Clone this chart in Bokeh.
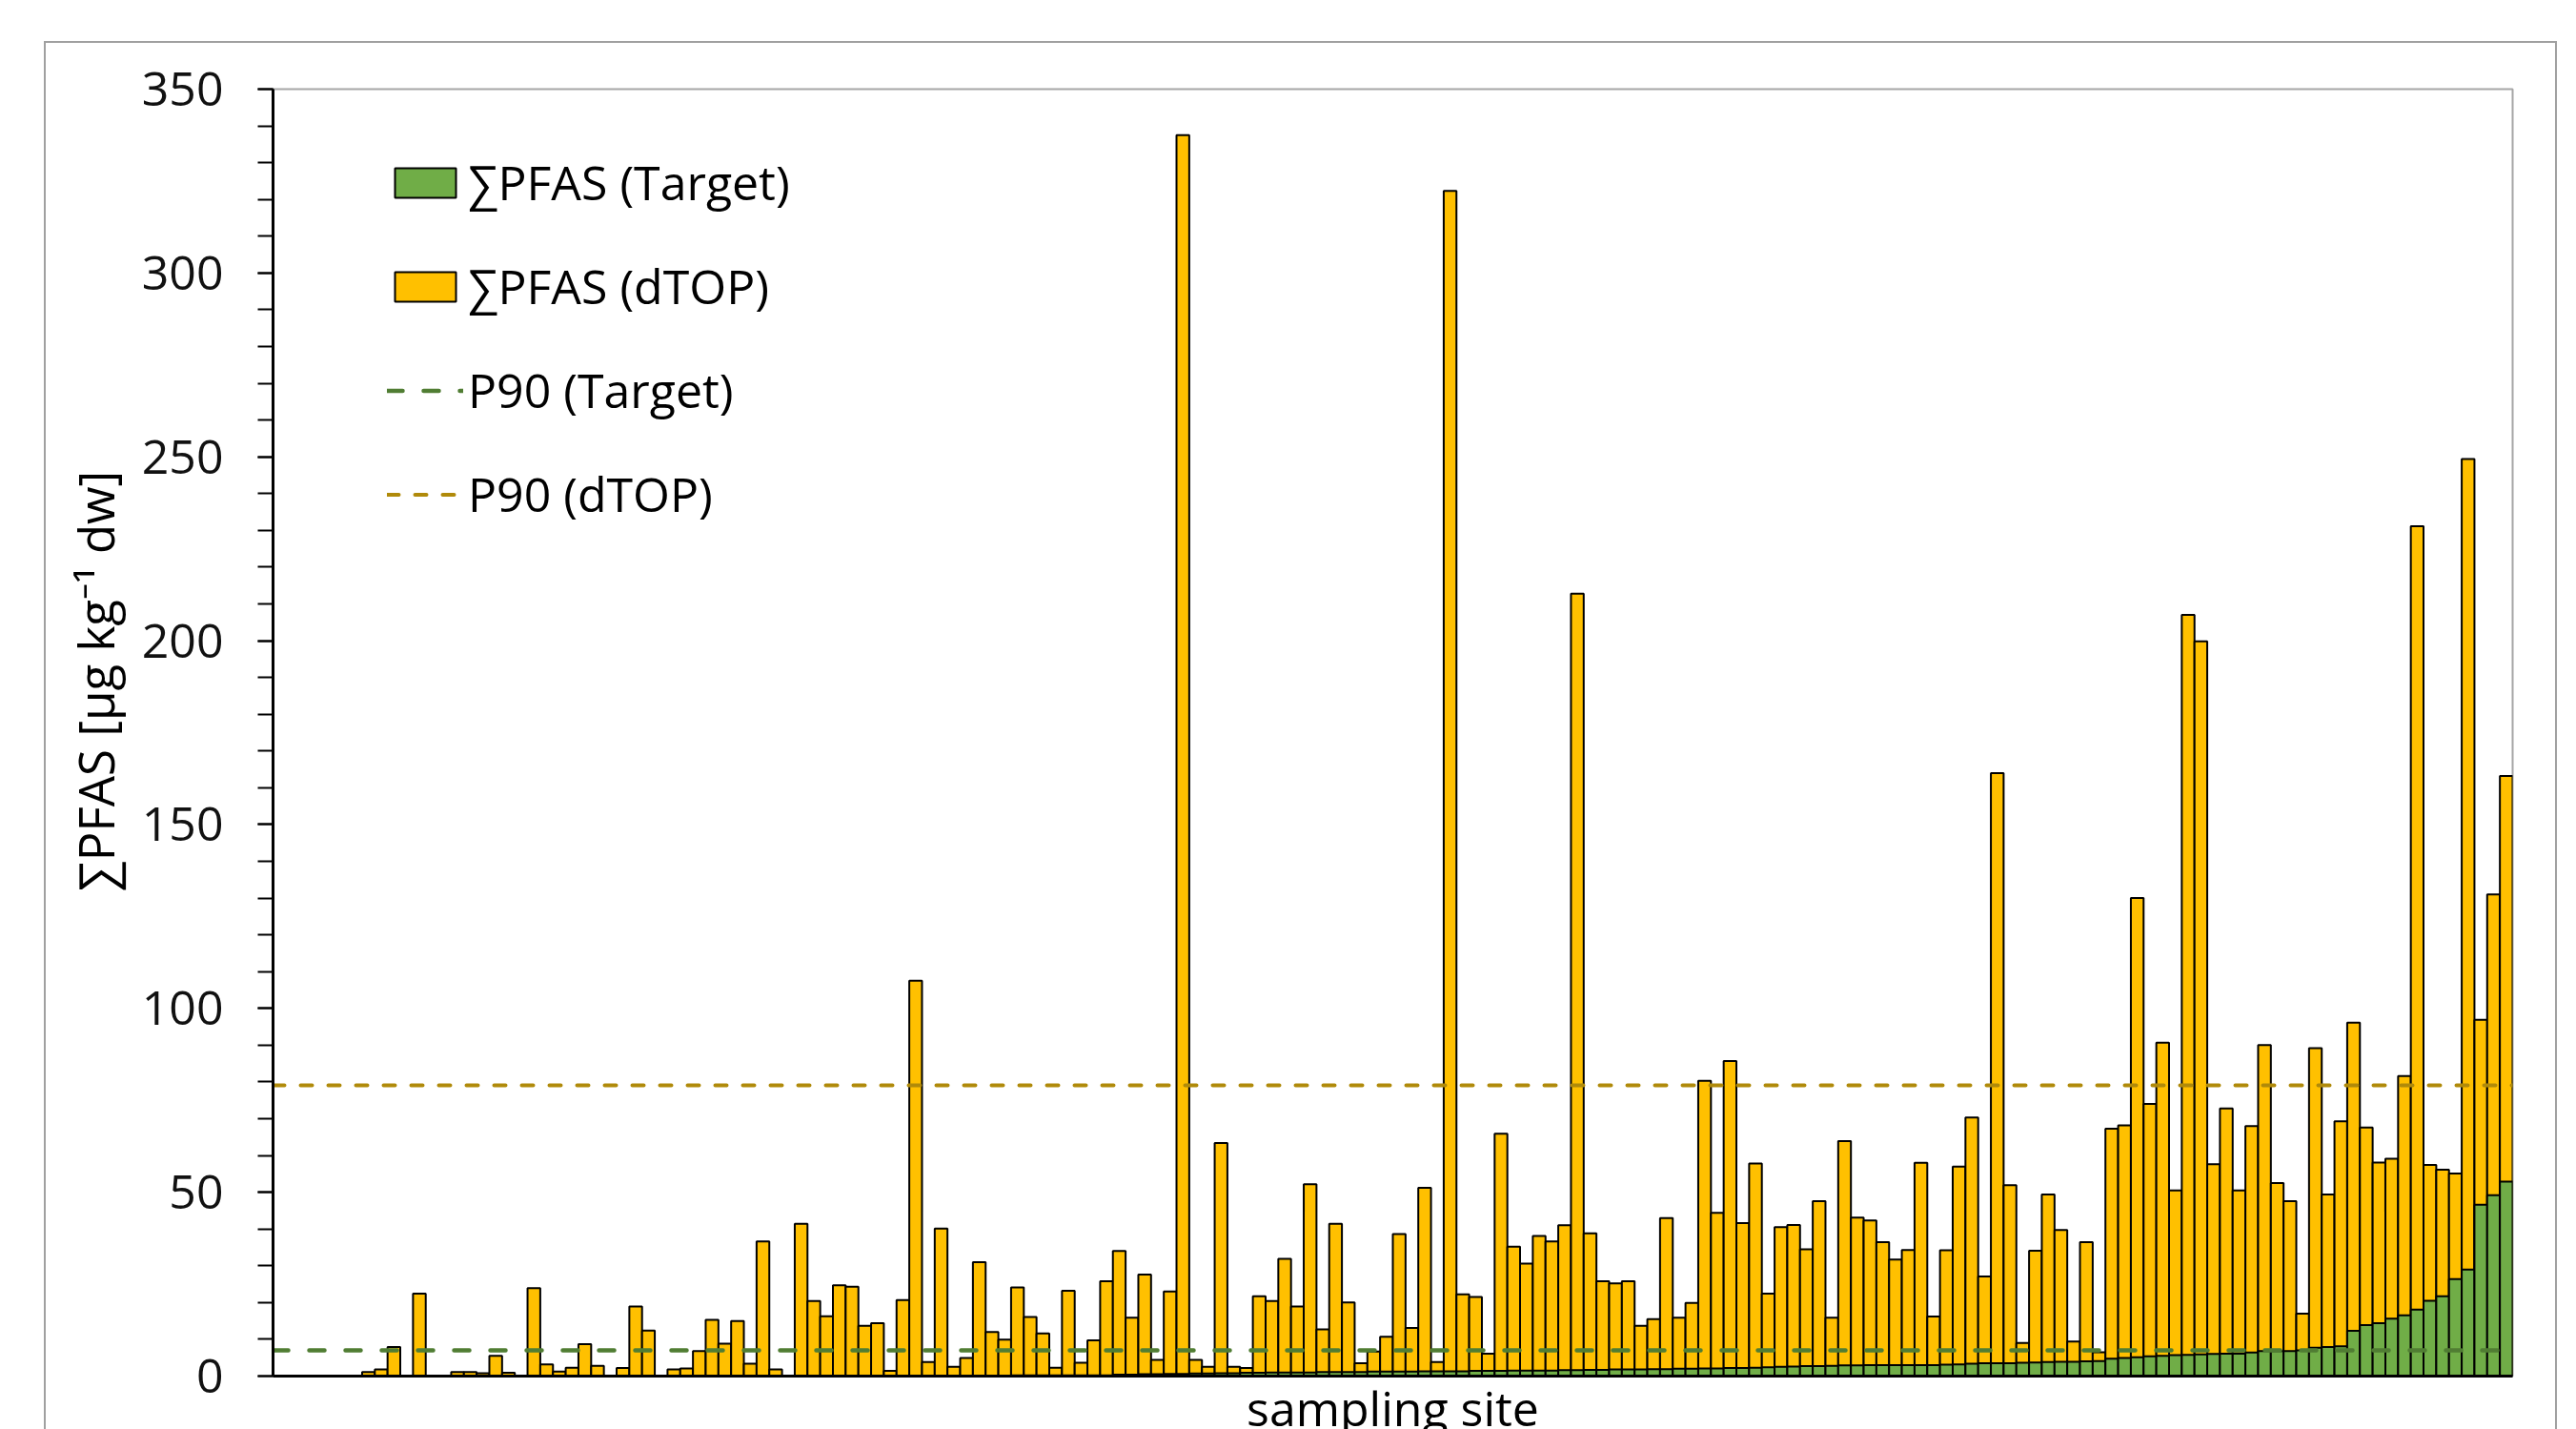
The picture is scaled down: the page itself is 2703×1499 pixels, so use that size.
from bokeh.plotting import figure
from bokeh.models import (Range1d, FixedTicker, Legend, LegendItem, Label,
                          ColumnDataSource)
from bokeh.embed import file_html
from bokeh.resources import INLINE

# ---- data ----
dtop = [
    0, 0, 0, 0, 0, 0, 0, 1.1, 1.8, 7.9,
    0, 22.4, 0, 0, 1.1, 1.1, 0.8, 5.5, 0.9, 0,
    23.9, 3.2, 1.2, 2.3, 8.7, 2.8, 0, 2.2, 18.9, 12.4,
    0, 1.8, 2.1, 6.8, 15.3, 8.8, 15.0, 3.4, 36.6, 1.8,
    0, 41.4, 20.4, 16.3, 24.7, 24.3, 13.7, 14.4, 1.4, 20.7,
    107.5, 3.8, 40.1, 2.5, 4.9, 31.0, 12.0, 9.9, 24.1, 16.1,
    11.6, 2.3, 23.2, 3.6, 9.7, 25.8, 34.0, 15.9, 27.6, 4.4,
    23.0, 337.5, 4.4, 2.5, 63.4, 2.5, 2.2, 21.7, 20.4, 31.9,
    18.9, 52.2, 12.7, 41.4, 20.0, 3.5, 6.7, 10.7, 38.6, 13.1,
    51.2, 3.8, 322.3, 22.2, 21.5, 6.1, 65.9, 35.2, 30.6, 38.1,
    36.6, 41.0, 212.8, 38.8, 25.8, 25.2, 25.8, 13.7, 15.5, 43.0,
    15.9, 19.9, 80.3, 44.4, 85.7, 41.6, 57.8, 22.4, 40.5, 41.1,
    34.5, 47.6, 15.9, 63.9, 43.1, 42.3, 36.4, 31.7, 34.3, 58.0,
    16.2, 34.2, 57.0, 70.3, 27.1, 164.0, 51.9, 9.0, 34.1, 49.4,
    39.7, 9.4, 36.4, 6.5, 67.3, 68.2, 130.0, 74.0, 90.7, 50.5,
    207.0, 199.8, 57.6, 72.8, 50.5, 68.0, 90.0, 52.5, 47.6, 17.0,
    89.2, 49.4, 69.3, 96.1, 67.6, 58.1, 59.1, 81.6, 231.1, 57.4,
    56.1, 55.1, 249.4, 96.9, 131.0, 163.2,
]

target = [
    0, 0, 0, 0, 0, 0, 0, 0, 0, 0,
    0, 0, 0, 0, 0, 0, 0, 0, 0, 0,
    0, 0, 0, 0, 0, 0, 0, 0, 0, 0,
    0, 0, 0, 0, 0, 0, 0, 0, 0, 0,
    0, 0, 0, 0, 0, 0, 0, 0, 0, 0,
    0, 0, 0, 0, 0, 0, 0, 0, 0.2, 0.2,
    0.2, 0.2, 0.2, 0.2, 0.2, 0.2, 0.4, 0.4, 0.5, 0.5,
    0.6, 0.6, 0.7, 0.7, 0.8, 0.8, 0.9, 0.9, 1.0, 1.0,
    1.0, 1.0, 1.1, 1.1, 1.1, 1.1, 1.2, 1.2, 1.2, 1.2,
    1.3, 1.3, 1.3, 1.3, 1.4, 1.4, 1.4, 1.5, 1.5, 1.5,
    1.5, 1.6, 1.6, 1.7, 1.7, 1.8, 1.8, 1.8, 1.9, 1.9,
    2.0, 2.0, 2.1, 2.1, 2.2, 2.2, 2.3, 2.4, 2.5, 2.6,
    2.7, 2.7, 2.8, 2.9, 2.9, 3.0, 3.0, 3.0, 3.0, 3.0,
    3.0, 3.1, 3.2, 3.4, 3.5, 3.5, 3.5, 3.6, 3.7, 3.8,
    3.9, 3.9, 4.0, 4.1, 4.7, 4.9, 5.1, 5.4, 5.5, 5.7,
    5.8, 5.9, 6.0, 6.1, 6.1, 6.4, 6.8, 6.8, 6.8, 7.0,
    7.7, 7.9, 8.1, 12.3, 13.9, 14.4, 15.6, 16.5, 18.1, 20.5,
    21.7, 26.4, 29.0, 46.6, 49.2, 52.9,
]

p90_target = 7.0
p90_dtop = 79.1

y_ticks = [0, 50, 100, 150, 200, 250, 300, 350]
y_minor = list(range(0, 351, 10))

series_labels = ["\u2211PFAS (Target)", "\u2211PFAS (dTOP)", "P90 (Target)", "P90 (dTOP)"]
y_title = "\u2211PFAS [\u00b5g kg\u207b\u00b9 dw]"
x_title = "sampling site"

sites = list(range(len(dtop)))

FONT = "Open Sans"
GRAY = "#a0a0a0"

# outer chart-area border drawn as CSS background lines behind a transparent border fill
border_css = (
    f"linear-gradient({GRAY},{GRAY}) 46px 43px / 2637px 2px no-repeat, "
    f"linear-gradient({GRAY},{GRAY}) 46px 43px / 2px 1460px no-repeat, "
    f"linear-gradient({GRAY},{GRAY}) 2681px 43px / 2px 1460px no-repeat, white"
)

p = figure(width=2703, height=1499, output_backend="svg", toolbar_location=None,
           x_range=Range1d(sites[0] - 0.5, sites[-1] + 0.5),
           y_range=Range1d(y_ticks[0], y_ticks[-1]),
           min_border_left=286, min_border_right=67,
           min_border_top=93, min_border_bottom=56,
           styles={"background": border_css})
p.grid.visible = False
p.background_fill_color = "white"
p.border_fill_alpha = 0
p.outline_line_color = "#a6a6a6"
p.outline_line_width = 2

# y axis
ya = p.yaxis[0]
ya.ticker = FixedTicker(ticks=y_ticks, minor_ticks=y_minor)
ya.axis_line_width = 3
ya.axis_line_color = "black"
ya.major_tick_in = 0
ya.major_tick_out = 16
ya.minor_tick_in = 0
ya.minor_tick_out = 16
ya.major_tick_line_width = 2
ya.minor_tick_line_width = 2
ya.major_label_standoff = 36
ya.major_label_text_font = FONT
ya.major_label_text_font_size = "50px"
ya.major_label_text_color = "#111111"

# x axis
xa = p.xaxis[0]
xa.ticker = FixedTicker(ticks=[])
xa.axis_line_width = 3
xa.axis_line_color = "black"
xa.major_tick_out = 0
xa.major_tick_in = 0
xa.minor_tick_out = 0
xa.minor_tick_in = 0
xa.major_label_text_font_size = "0px"

src = ColumnDataSource(dict(site=sites, dtop=dtop, target=target))
r_dtop = p.vbar(x="site", top="dtop", bottom=0, width=1, source=src,
                fill_color="#FFC000", line_color="black", line_width=2)
r_target = p.vbar(x="site", top="target", bottom=0, width=1, source=src,
                  fill_color="#70AD47", line_color="black", line_width=2)

x_ends = [sites[0] - 0.5, sites[-1] + 0.5]
r_p90t = p.line(x=x_ends, y=[p90_target, p90_target], line_color="#507D33",
                line_width=4.5, line_dash="16 22", line_cap="round")
r_p90d = p.line(x=x_ends, y=[p90_dtop, p90_dtop], line_color="#B08A0A",
                line_width=4, line_dash="12 17", line_cap="round")

legend = Legend(items=[
    LegendItem(label=series_labels[0], renderers=[r_target]),
    LegendItem(label=series_labels[1], renderers=[r_dtop]),
    LegendItem(label=series_labels[2], renderers=[r_p90t]),
    LegendItem(label=series_labels[3], renderers=[r_p90d]),
], location=(120, 891), glyph_width=80, glyph_height=39, label_standoff=5,
    label_height=68, spacing=41, padding=0, margin=0,
    border_line_alpha=0, background_fill_alpha=0,
    label_text_font=FONT, label_text_font_size="50px", label_text_color="black")
p.add_layout(legend)

# axis titles as labels placed in side panels (not clipped to the frame);
# positions given in data units of the plot's scales
p.add_layout(Label(x=-14.46, y=189, x_units="data", y_units="data", text=y_title,
                   angle=90, angle_units="deg", text_align="center", text_baseline="middle",
                   text_font=FONT, text_font_size="51px", text_color="black"), "left")
p.add_layout(Label(x=(sites[0] + sites[-1]) / 2, y=-8.6, x_units="data", y_units="data",
                   text=x_title, text_align="center", text_baseline="alphabetic",
                   text_font=FONT, text_font_size="50px", text_color="black"), "above")

open("out.html", "w").write(file_html(p, INLINE))
